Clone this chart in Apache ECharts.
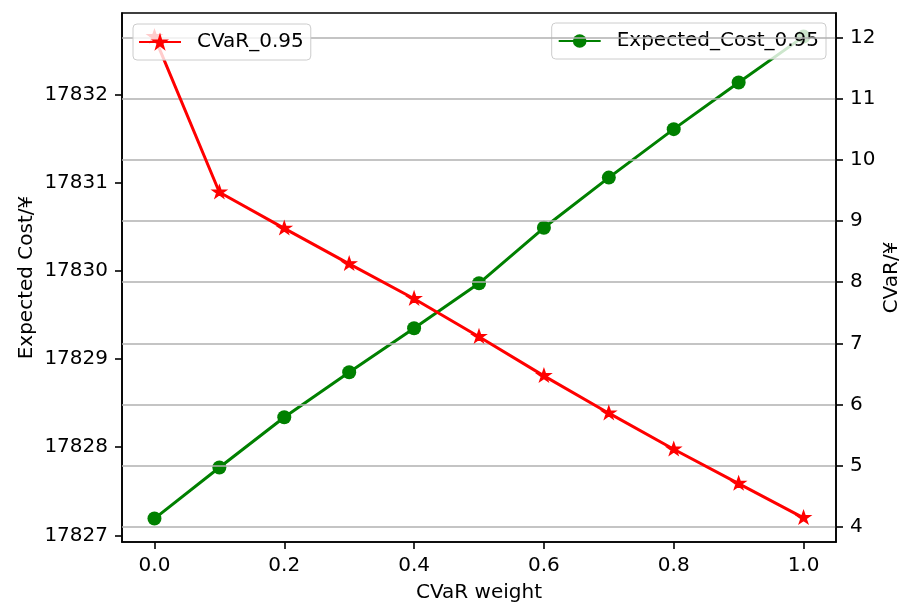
<!DOCTYPE html>
<html>
<head>
<meta charset="utf-8">
<script src="https://cdn.jsdelivr.net/npm/echarts@6/dist/echarts.min.js"></script>
<style>
  html, body { margin: 0; padding: 0; background: #ffffff; }
  #chart { width: 904px; height: 603px; }
</style>
</head>
<body>
<div id="chart"></div>
<script>
// CVaR weight sweep
const weights = [0.0, 0.1, 0.2, 0.3, 0.4, 0.5, 0.6, 0.7, 0.8, 0.9, 1.0];
// CVaR at the 95% level (right axis, ¥)
const cvar95 = [12.01, 9.47, 8.88, 8.30, 7.73, 7.11, 6.47, 5.86, 5.27, 4.71, 4.15];
// Expected cost at the 95% level (left axis, ¥)
const expectedCost95 = [17827.19, 17827.77, 17828.34, 17828.85, 17829.35, 17829.86,
                        17830.49, 17831.06, 17831.61, 17832.14, 17832.66];
// Tick labels
const xTicks = [0.0, 0.2, 0.4, 0.6, 0.8, 1.0];
const costTicks = [17827, 17828, 17829, 17830, 17831, 17832];
const cvarTicks = [4, 5, 6, 7, 8, 9, 10, 11, 12];

// Five-pointed star marker
function starPath() {
  const pts = [];
  for (let k = 0; k < 10; k++) {
    const rad = k % 2 === 0 ? 10 : 3.81966;
    const a = Math.PI * k / 5;
    pts.push((rad * Math.sin(a)).toFixed(3) + ',' + (-rad * Math.cos(a)).toFixed(3));
  }
  return 'path://M' + pts.join('L') + 'Z';
}
const STAR = starPath();

const FONT = 'DejaVu Sans';
const FS = 20;
const textBase = { fontFamily: FONT, fontSize: FS, color: '#000000' };
const axisLineStyle = { show: true, onZero: false, lineStyle: { color: '#000000', width: 1.6 } };

const chart = echarts.init(document.getElementById('chart'), null, { renderer: 'canvas' });

// Layers: zlevel 0 holds the frame, left/bottom axes and the cost line;
// the cost legend sits above it, then the CVaR axis grid and CVaR line,
// and the CVaR legend on top.
chart.setOption({
  backgroundColor: '#ffffff',
  animation: false,
  grid: {
    left: 122, right: 68, top: 13, bottom: 61,
    containLabel: false,
    outerBoundsMode: 'none',
    show: true, borderColor: '#000000', borderWidth: 1.6, backgroundColor: 'transparent'
  },
  legend: [
    {
      data: ['CVaR_0.95'],
      left: 133, top: 24,
      zlevel: 3, z: 1,
      padding: [8, 7, 8, 5],
      itemWidth: 42, itemHeight: 15,
      backgroundColor: 'rgba(255,255,255,0.8)',
      borderColor: '#cccccc', borderWidth: 1, borderRadius: 4,
      textStyle: Object.assign({}, textBase, { padding: [0, 0, 0, 11] })
    },
    {
      data: ['Expected_Cost_0.95'],
      right: 78, top: 23,
      zlevel: 1, z: 1,
      padding: [8, 7, 8, 6],
      itemWidth: 42, itemHeight: 17,
      backgroundColor: 'rgba(255,255,255,0.8)',
      borderColor: '#cccccc', borderWidth: 1, borderRadius: 4,
      textStyle: Object.assign({}, textBase, { padding: [0, 0, 0, 11] })
    }
  ],
  xAxis: {
    type: 'value',
    min: -0.05, max: 1.05,
    name: 'CVaR weight',
    nameLocation: 'middle',
    nameGap: 41,
    nameMoveOverlap: false,
    nameTextStyle: textBase,
    axisLine: axisLineStyle,
    axisTick: { show: true, inside: false, length: 7, lineStyle: { color: '#000000', width: 1.6 }, customValues: xTicks },
    axisLabel: Object.assign({}, textBase, { margin: 14, customValues: xTicks, formatter: v => v.toFixed(1) }),
    splitLine: { show: false }
  },
  yAxis: [
    {
      type: 'value',
      position: 'left',
      min: 17826.924, max: 17832.928,
      name: 'Expected Cost/¥',
      nameLocation: 'middle',
      nameRotate: 90,
      nameGap: 85,
      nameMoveOverlap: false,
      nameTextStyle: textBase,
      axisLine: axisLineStyle,
      axisTick: { show: true, length: 7, lineStyle: { color: '#000000', width: 1.6 }, customValues: costTicks },
      axisLabel: Object.assign({}, textBase, { margin: 14, customValues: costTicks, formatter: v => String(Math.round(v)) }),
      splitLine: { show: false }
    },
    {
      type: 'value',
      position: 'right',
      min: 3.755, max: 12.399,
      name: 'CVaR/¥',
      nameLocation: 'middle',
      nameRotate: 90,
      nameGap: 46,
      nameMoveOverlap: false,
      nameTextStyle: textBase,
      zlevel: 2, z: 1,
      axisLine: axisLineStyle,
      axisTick: { show: true, length: 7, lineStyle: { color: '#000000', width: 1.6 }, customValues: cvarTicks },
      axisLabel: Object.assign({}, textBase, { margin: 14, customValues: cvarTicks, formatter: v => String(Math.round(v)) }),
      splitLine: { show: true, lineStyle: { color: '#b0b0b0', width: 1.6 } }
    }
  ],
  series: [
    {
      name: 'Expected_Cost_0.95',
      type: 'line',
      yAxisIndex: 0,
      z: 2,
      data: weights.map((w, i) => [w, expectedCost95[i]]),
      symbol: 'circle',
      symbolSize: 14,
      showAllSymbol: true,
      lineStyle: { color: '#008000', width: 3 },
      itemStyle: { color: '#008000' }
    },
    {
      name: 'CVaR_0.95',
      type: 'line',
      yAxisIndex: 1,
      zlevel: 2, z: 3,
      data: weights.map((w, i) => [w, cvar95[i]]),
      symbol: STAR,
      symbolKeepAspect: true,
      symbolSize: [13, 12.4],
      symbolOffset: [0, -0.6],
      showAllSymbol: true,
      lineStyle: { color: '#ff0000', width: 3 },
      itemStyle: { color: '#ff0000', borderColor: '#ff0000', borderWidth: 1.5 }
    }
  ]
});
</script>
</body>
</html>
